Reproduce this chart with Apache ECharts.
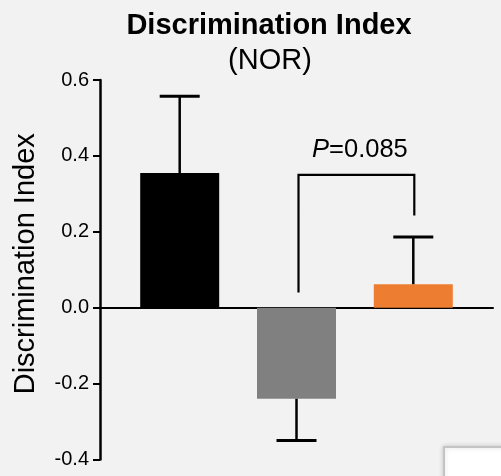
<!DOCTYPE html>
<html>
<head>
<meta charset="utf-8">
<style>
  html, body { margin: 0; padding: 0; background: #f2f2f2; }
  #chart { width: 501px; height: 476px; }
</style>
<script src="https://cdn.jsdelivr.net/npm/echarts@6/dist/echarts.min.js"></script>
</head>
<body>
<div id="chart"></div>
<script>
// 分组
var groups = ['Group1', 'Group2', 'Group3']
// 平均值 和 误差
var means = [0.355, -0.240, 0.062]
var errors = [0.202, 0.110, 0.124]
var barColors = ['#000000', '#808080', '#ED7D31']
// y轴刻度
var yTicks = [-0.4, -0.2, 0.0, 0.2, 0.4, 0.6]
// 显著性标注 (Group2 vs Group3)
var bracketPair = [1, 2]
var bracketEnds = [0.04, 0.35, 0.243]
var pText = '0.085'

var font = 'Liberation Sans, Arial, sans-serif'

function discriminationChart () {
  var myChart = echarts.init(document.getElementById('chart'))
  var option = {
    backgroundColor: '#f2f2f2',
    title: [
      {
        text: 'Discrimination Index',
        left: 264,
        top: 5,
        textAlign: 'center',
        textStyle: { fontFamily: font, fontSize: 29, fontWeight: 'bold', color: '#000', lineHeight: 32 }
      },
      {
        text: '(NOR)',
        left: 265,
        top: 40,
        textAlign: 'center',
        textStyle: { fontFamily: font, fontSize: 29, fontWeight: 'normal', color: '#000', lineHeight: 32 }
      }
    ],
    grid: [
      { left: 100, right: 8, top: 80, bottom: 16.5 },
      { left: 121.3, right: 29.3, top: 80, bottom: 16.5 }
    ],
    xAxis: [
      {
        gridIndex: 0,
        type: 'value',
        min: 0,
        max: 1,
        axisLine: { show: true, onZero: true, lineStyle: { color: '#000', width: 2 } },
        axisTick: { show: false },
        axisLabel: { show: false },
        splitLine: { show: false }
      },
      {
        gridIndex: 1,
        type: 'category',
        data: groups,
        show: false
      }
    ],
    yAxis: [
      {
        gridIndex: 0,
        type: 'value',
        min: yTicks[0],
        max: yTicks[yTicks.length - 1],
        interval: 0.2,
        name: 'Discrimination Index',
        nameLocation: 'middle',
        nameRotate: 90,
        nameGap: 60,
        nameTextStyle: { fontFamily: font, fontSize: 29, color: '#000', padding: [0, 0, 0, 12] },
        axisLine: { show: true, lineStyle: { color: '#000', width: 2.5 } },
        axisTick: { show: true, length: 7, lineStyle: { color: '#000', width: 2 } },
        axisLabel: {
          margin: 11,
          fontFamily: font,
          fontSize: 20,
          color: '#000',
          formatter: function (v) { return v.toFixed(1) }
        },
        splitLine: { show: false }
      },
      {
        gridIndex: 1,
        type: 'value',
        min: yTicks[0],
        max: yTicks[yTicks.length - 1],
        show: false
      }
    ],
    series: [
      {
        type: 'bar',
        xAxisIndex: 1,
        yAxisIndex: 1,
        barWidth: 79,
        data: means.map(function (v, i) {
          return { value: v, itemStyle: { color: barColors[i] } }
        }),
        z: 2
      },
      {
        // 误差线
        type: 'custom',
        xAxisIndex: 1,
        yAxisIndex: 1,
        data: means.map(function (v, i) {
          return [i, v, v >= 0 ? v + errors[i] : v - errors[i]]
        }),
        renderItem: function (params, api) {
          var p0 = api.coord([api.value(0), api.value(1)])
          var p1 = api.coord([api.value(0), api.value(2)])
          var half = 20
          return {
            type: 'group',
            children: [
              {
                type: 'line',
                shape: { x1: p0[0], y1: p0[1], x2: p1[0], y2: p1[1] },
                style: { stroke: '#000', lineWidth: 2.5 }
              },
              {
                type: 'line',
                shape: { x1: p1[0] - half, y1: p1[1], x2: p1[0] + half, y2: p1[1] },
                style: { stroke: '#000', lineWidth: 3 }
              }
            ]
          }
        },
        z: 3
      },
      {
        // 显著性括号
        type: 'custom',
        xAxisIndex: 1,
        yAxisIndex: 1,
        data: [[bracketPair[0], bracketPair[1], bracketEnds[0], bracketEnds[1], bracketEnds[2]]],
        renderItem: function (params, api) {
          var a = api.coord([api.value(0), api.value(2)])
          var top = api.coord([api.value(0), api.value(3)])
          var b = api.coord([api.value(1), api.value(4)])
          var topY = top[1]
          return {
            type: 'group',
            children: [
              {
                type: 'polyline',
                shape: { points: [[a[0] + 2, a[1]], [a[0] + 2, topY], [b[0] + 1, topY], [b[0] + 1, b[1]]] },
                style: { stroke: '#000', lineWidth: 2.2, fill: 'none' }
              },
              {
                type: 'text',
                style: {
                  x: (a[0] + b[0]) / 2 + 5,
                  y: topY - 25,
                  text: '{i|P}{n|=' + pText + '}',
                  align: 'center',
                  verticalAlign: 'middle',
                  rich: {
                    i: { fontFamily: font, fontSize: 25.5, fontStyle: 'italic', fill: '#000' },
                    n: { fontFamily: font, fontSize: 25.5, fill: '#000' }
                  }
                }
              }
            ]
          }
        },
        z: 3
      }
    ],
    graphic: [
      {
        type: 'rect',
        left: 443,
        top: 446,
        shape: { width: 70, height: 40 },
        style: { fill: '#ffffff', stroke: '#c4c4c4', lineWidth: 2, shadowBlur: 5, shadowColor: 'rgba(0,0,0,0.15)' }
      }
    ]
  }
  myChart.setOption(option)
  window.addEventListener('resize', function () {
    myChart.resize()
  })
}

discriminationChart()
</script>
</body>
</html>
